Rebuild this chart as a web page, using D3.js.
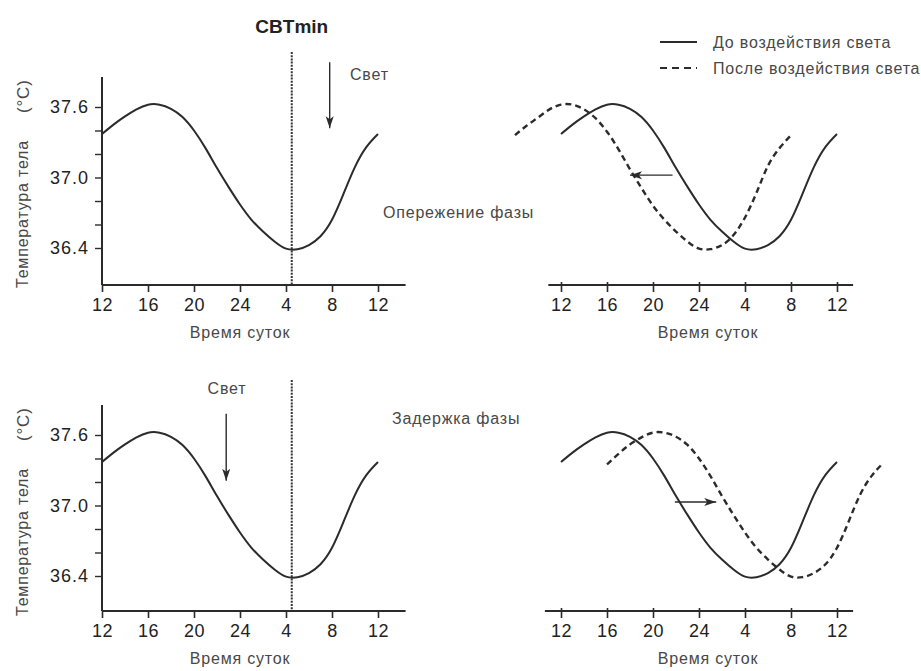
<!DOCTYPE html>
<html>
<head>
<meta charset="utf-8">
<script src="https://cdn.jsdelivr.net/npm/d3@7"></script>
<style>
  body { margin: 0; background: #fff; }
  text { font-family: "Liberation Sans", Arial, sans-serif; }
</style>
</head>
<body>
<svg id="chart" width="921" height="671"></svg>
<script>
// hours counted from midnight of day 1 (12 = noon, 28 = 4 am next day)
var hoursBefore = [12, 13, 14, 15, 16, 17, 18, 19, 20, 21, 22, 23, 24, 25, 26, 27, 28, 29, 30, 31, 32, 33, 34, 35, 36];
var tempBefore  = [37.37, 37.45, 37.52, 37.58, 37.62, 37.62, 37.585, 37.515, 37.40, 37.25, 37.08, 36.92, 36.77,
                   36.64, 36.54, 36.455, 36.395, 36.39, 36.425, 36.50, 36.64, 36.86, 37.09, 37.26, 37.37];

// after light in the morning (phase advance)
var hoursAdvanced = [8, 9, 10, 11, 12, 13, 14, 15, 16, 17, 18, 19, 20, 21, 22, 23, 24, 25, 26, 27, 28, 29, 30, 31, 32];
var tempAdvanced  = [37.36, 37.44, 37.51, 37.58, 37.62, 37.62, 37.58, 37.505, 37.39, 37.24, 37.07, 36.91, 36.76,
                     36.64, 36.54, 36.455, 36.395, 36.39, 36.425, 36.51, 36.66, 36.87, 37.10, 37.25, 37.36];

// after light in the evening (phase delay)
var hoursDelayed = [16, 17, 18, 19, 20, 21, 22, 23, 24, 25, 26, 27, 28, 29, 30, 31, 32, 33, 34, 35, 36, 37, 38, 39, 40];
var tempDelayed  = [37.35, 37.44, 37.52, 37.58, 37.62, 37.62, 37.585, 37.515, 37.40, 37.25, 37.08, 36.92, 36.77,
                    36.64, 36.54, 36.455, 36.395, 36.39, 36.425, 36.50, 36.64, 36.86, 37.09, 37.25, 37.36];

var xTicks = [12, 16, 20, 24, 28, 32, 36];
var xTickLabels = ["12", "16", "20", "24", "4", "8", "12"];
var yTicks = [36.4, 36.6, 36.8, 37.0, 37.2, 37.4, 37.6];
var yLabelled = [36.4, 37.0, 37.6];

var cbtMinHour = 28.5;
var lightMorning = { hour: 31.8, from: 37.98, to: 37.42 };
var lightEvening = { hour: 22.8, from: 37.78, to: 37.21 };
var advanceArrow = { from: 21.7, to: 18.0, temp: 37.02 };
var delayArrow = { from: 21.9, to: 25.5, temp: 37.03 };

var legendLabels = ["До воздействия света", "После воздействия света"];

var svg = d3.select("#chart");
var ink = "#2b2b2b";
var grey = "#484848";

svg.append("defs").append("marker")
  .attr("id", "head")
  .attr("viewBox", "0 -5 12 10")
  .attr("refX", 12).attr("refY", 0)
  .attr("markerWidth", 12).attr("markerHeight", 10)
  .attr("markerUnits", "userSpaceOnUse")
  .attr("orient", "auto")
  .append("path")
  .attr("d", "M0,-4L12,0L0,4L3,0Z")
  .attr("fill", ink);

// same scales in every panel, panels are shifted with a transform
var x = d3.scaleLinear().domain([12, 36]).range([102, 378]);
var y = d3.scaleLinear().domain([36.4, 37.6]).range([248, 107]);

var line = d3.line()
  .x(function (d) { return x(d[0]); })
  .y(function (d) { return y(d[1]); })
  .curve(d3.curveNatural);

function label(sel, size) {
  return sel.attr("fill", grey)
    .style("font-size", (size || 16) + "px")
    .style("letter-spacing", "0.8px");
}

function drawCurve(g, hrs, temps, dashed) {
  g.append("path")
    .datum(d3.zip(hrs, temps))
    .attr("d", line)
    .attr("fill", "none")
    .attr("stroke", ink)
    .attr("stroke-width", dashed ? 2.4 : 2)
    .attr("stroke-dasharray", dashed ? "6,4" : null);
}

function drawPanel(opt) {
  var g = svg.append("g").attr("transform", "translate(" + opt.dx + "," + opt.dy + ")");

  // x axis
  var xa = g.append("g")
    .attr("transform", "translate(0," + opt.axisY + ")")
    .call(d3.axisBottom(x).tickValues(xTicks)
      .tickFormat(function (d, i) { return xTickLabels[i]; })
      .tickSize(7).tickPadding(6));
  xa.select(".domain").remove();
  xa.selectAll(".tick line").attr("stroke", ink).attr("stroke-width", 1.6)
    .attr("y1", opt.yAxis ? 0 : -3);
  xa.selectAll(".tick text").attr("fill", "#222").style("font-size", "18px")
    .style("letter-spacing", "0.5px")
    .style("font-family", "'Liberation Sans', Arial, sans-serif");
  g.append("line")
    .attr("x1", x(opt.axisFrom)).attr("x2", x(opt.axisTo))
    .attr("y1", opt.axisY).attr("y2", opt.axisY)
    .attr("stroke", ink).attr("stroke-width", 2);

  label(g.append("text"))
    .attr("x", opt.yAxis ? 240 : 249).attr("y", opt.axisY + 53)
    .attr("text-anchor", "middle")
    .text("Время суток");

  if (opt.yAxis) {
    var ya = g.append("g")
      .attr("transform", "translate(102,0)")
      .call(d3.axisLeft(y).tickValues(yTicks)
        .tickFormat(function (d) { return yLabelled.indexOf(d) >= 0 ? d.toFixed(1) : ""; })
        .tickSize(7).tickPadding(6));
    ya.select(".domain").remove();
    ya.selectAll(".tick line").attr("stroke", ink).attr("stroke-width", 1.4);
    ya.selectAll(".tick text").attr("fill", "#222").style("font-size", "18px")
      .style("letter-spacing", "1px")
      .style("font-family", "'Liberation Sans', Arial, sans-serif");
    g.append("line")
      .attr("x1", 102).attr("x2", 102).attr("y1", 77).attr("y2", opt.axisY)
      .attr("stroke", ink).attr("stroke-width", 2);

    label(g.append("text"))
      .attr("transform", "translate(28,288) rotate(-90)")
      .text("Температура тела");
    label(g.append("text"), 17)
      .attr("transform", "translate(29,113) rotate(-90)")
      .text("(°C)");

    // CBTmin marker
    g.append("line")
      .attr("x1", x(cbtMinHour)).attr("x2", x(cbtMinHour))
      .attr("y1", 52).attr("y2", opt.axisY)
      .attr("stroke", "#333").attr("stroke-width", 2)
      .attr("stroke-dasharray", "2,1.2");

    // light pulse arrow
    var l = opt.light;
    g.append("line")
      .attr("x1", x(l.hour)).attr("x2", x(l.hour))
      .attr("y1", y(l.from)).attr("y2", y(l.to))
      .attr("stroke", ink).attr("stroke-width", 1.4)
      .attr("marker-end", "url(#head)");
    label(g.append("text"))
      .attr("x", opt.lightLabel[0]).attr("y", opt.lightLabel[1])
      .attr("text-anchor", opt.lightLabel[2])
      .attr("dominant-baseline", "central")
      .text("Свет");
  }

  drawCurve(g, hoursBefore, tempBefore, false);
  if (opt.after) {
    drawCurve(g, opt.after[0], opt.after[1], true);
    var a = opt.arrow;
    g.append("line")
      .attr("x1", x(a.from)).attr("x2", x(a.to))
      .attr("y1", y(a.temp)).attr("y2", y(a.temp))
      .attr("stroke", ink).attr("stroke-width", 1.3)
      .attr("marker-end", "url(#head)");
  }
  return g;
}

drawPanel({ dx: 0, dy: 0, axisY: 285, axisFrom: 12, axisTo: 38.4, yAxis: true,
  light: lightMorning, lightLabel: [350, 74, "start"] });
drawPanel({ dx: 459, dy: 0, axisY: 285, axisFrom: 10.9, axisTo: 37.4, yAxis: false,
  after: [hoursAdvanced, tempAdvanced], arrow: advanceArrow });
drawPanel({ dx: 0, dy: 328, axisY: 283, axisFrom: 12, axisTo: 38.4, yAxis: true,
  light: lightEvening, lightLabel: [227, 60, "middle"] });
drawPanel({ dx: 459, dy: 328, axisY: 283, axisFrom: 10.6, axisTo: 37.4, yAxis: false,
  after: [hoursDelayed, tempDelayed], arrow: delayArrow });

svg.append("text")
  .attr("x", x(cbtMinHour)).attr("y", 26)
  .attr("text-anchor", "middle").attr("dominant-baseline", "central")
  .attr("fill", "#222").style("font-size", "19px").style("font-weight", "bold")
  .text("CBTmin");

label(svg.append("text"))
  .attr("x", 383).attr("y", 212).attr("dominant-baseline", "central")
  .text("Опережение фазы");
label(svg.append("text"))
  .attr("x", 392).attr("y", 418).attr("dominant-baseline", "central")
  .text("Задержка фазы");

// legend
var legend = svg.append("g");
legendLabels.forEach(function (name, i) {
  var ly = 42 + i * 26;
  legend.append("line")
    .attr("x1", 660).attr("x2", 697).attr("y1", ly).attr("y2", ly)
    .attr("stroke", ink).attr("stroke-width", 2.2)
    .attr("stroke-dasharray", i === 1 ? "7,5" : null);
  label(legend.append("text"))
    .attr("x", 713).attr("y", ly).attr("dominant-baseline", "central")
    .text(name);
});
</script>
</body>
</html>
